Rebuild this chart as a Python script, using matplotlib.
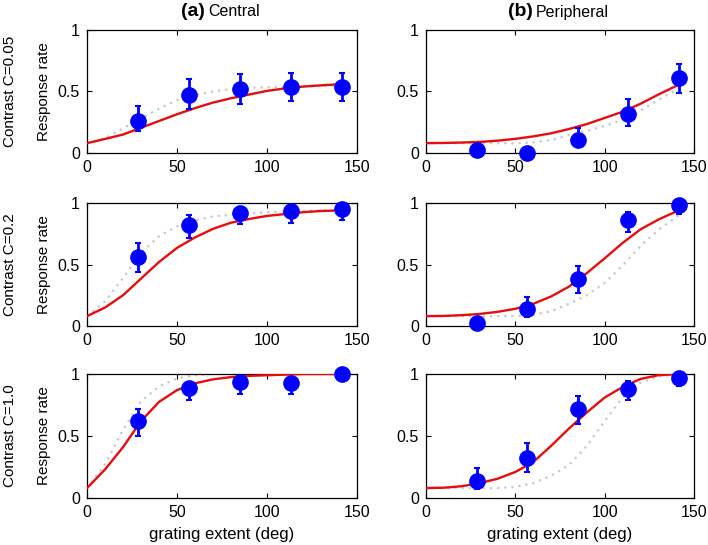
import matplotlib
matplotlib.use("Agg")
import matplotlib.pyplot as plt
import numpy as np

plt.rcParams['font.family'] = ['Liberation Sans', 'DejaVu Sans']

# stimulus positions (deg)
x_pts = [28.3, 56.6, 84.9, 113.1, 141.4]
# fitted-curve sample positions (deg)
x_fit = [0, 10, 20, 30, 40, 50, 60, 70, 80, 90, 100, 110, 120, 130, 141.4]

# ---- (a) Central ----
a1_y = [0.26, 0.47, 0.52, 0.535, 0.54]
a1_lo = [0.18, 0.36, 0.40, 0.42, 0.42]
a1_hi = [0.38, 0.60, 0.64, 0.65, 0.65]
a1_red = [0.08, 0.114, 0.15, 0.205, 0.26, 0.315, 0.365, 0.41, 0.445, 0.475, 0.505, 0.525, 0.54, 0.55, 0.56]
a1_gray = [0.08, 0.12, 0.20, 0.28, 0.36, 0.43, 0.47, 0.50, 0.52, 0.53, 0.535, 0.54, 0.542, 0.544, 0.545]

a2_y = [0.56, 0.82, 0.92, 0.935, 0.95]
a2_lo = [0.44, 0.715, 0.83, 0.84, 0.865]
a2_hi = [0.675, 0.90, 0.97, 0.98, 0.995]
a2_red = [0.08, 0.15, 0.25, 0.385, 0.52, 0.635, 0.72, 0.79, 0.84, 0.87, 0.895, 0.91, 0.925, 0.935, 0.94]
a2_gray = [0.08, 0.20, 0.39, 0.59, 0.73, 0.81, 0.86, 0.89, 0.905, 0.915, 0.925, 0.93, 0.935, 0.94, 0.94]

a3_y = [0.62, 0.886, 0.935, 0.93, 1.0]
a3_lo = [0.50, 0.79, 0.84, 0.84, 0.99]
a3_hi = [0.72, 0.93, 0.97, 0.97, 1.0]
a3_red = [0.08, 0.23, 0.41, 0.62, 0.775, 0.87, 0.925, 0.957, 0.975, 0.985, 0.99, 0.995, 1.0, 1.0, 1.0]
a3_gray = [0.08, 0.27, 0.55, 0.78, 0.90, 0.965, 0.99, 1.0, 1.0, 1.0, 1.0, 1.0, 1.0, 1.0, 1.0]

# ---- (b) Peripheral ----
b1_y = [0.027, 0.0, 0.108, 0.316, 0.61]
b1_lo = [0.0, 0.0, 0.08, 0.22, 0.49]
b1_hi = [0.06, 0.0, 0.20, 0.44, 0.72]
b1_red = [0.08, 0.082, 0.085, 0.09, 0.10, 0.115, 0.135, 0.16, 0.195, 0.235, 0.285, 0.335, 0.40, 0.475, 0.555]
b1_gray = [0.08, 0.08, 0.08, 0.08, 0.08, 0.08, 0.085, 0.105, 0.145, 0.18, 0.22, 0.27, 0.345, 0.43, 0.525]

b2_y = [0.024, 0.135, 0.38, 0.865, 0.98]
b2_lo = [0.0, 0.07, 0.27, 0.765, 0.91]
b2_hi = [0.06, 0.236, 0.49, 0.93, 1.0]
b2_red = [0.08, 0.082, 0.088, 0.098, 0.115, 0.14, 0.18, 0.24, 0.32, 0.43, 0.55, 0.675, 0.785, 0.865, 0.94]
b2_gray = [0.08, 0.08, 0.08, 0.08, 0.08, 0.082, 0.09, 0.12, 0.18, 0.25, 0.35, 0.49, 0.65, 0.78, 0.90]

b3_y = [0.138, 0.32, 0.72, 0.88, 0.97]
b3_lo = [0.076, 0.21, 0.60, 0.79, 0.90]
b3_hi = [0.24, 0.44, 0.82, 0.94, 1.0]
b3_red = [0.08, 0.083, 0.095, 0.12, 0.155, 0.21, 0.29, 0.42, 0.56, 0.69, 0.81, 0.895, 0.96, 0.99, 1.0]
b3_gray = [0.08, 0.08, 0.08, 0.08, 0.08, 0.09, 0.12, 0.18, 0.265, 0.42, 0.62, 0.81, 0.93, 0.98, 0.995]

row_labels = ["Contrast C=0.05", "Contrast C=0.2", "Contrast C=1.0"]
x_ticks = [0, 50, 100, 150]
y_ticks = [0, 0.5, 1]
y_ticklabels = ["0", "0.5", "1"]

panels = [
    [(a1_y, a1_lo, a1_hi, a1_red, a1_gray), (b1_y, b1_lo, b1_hi, b1_red, b1_gray)],
    [(a2_y, a2_lo, a2_hi, a2_red, a2_gray), (b2_y, b2_lo, b2_hi, b2_red, b2_gray)],
    [(a3_y, a3_lo, a3_hi, a3_red, a3_gray), (b3_y, b3_lo, b3_hi, b3_red, b3_gray)],
]

W, H = 708, 545
fig = plt.figure(figsize=(W / 100, H / 100), dpi=100)

col_x = [(87, 357), (426, 694)]
row_y = [(30, 153), (203, 326), (374, 498)]

for r in range(3):
    for c in range(2):
        x0, x1 = col_x[c]
        yt, yb = row_y[r]
        ax = fig.add_axes([x0 / W, 1 - yb / H, (x1 - x0) / W, (yb - yt) / H])
        y, lo, hi, red, gray = panels[r][c]
        ax.plot(x_fit, gray, color=(0.78, 0.78, 0.80), lw=1.6, ls=(0, (1, 2.2)),
                zorder=2, solid_joinstyle='round')
        ax.plot(x_fit, red, color=(0.9, 0.05, 0.05), lw=1.7, zorder=3,
                solid_joinstyle='round')
        y = np.array(y); lo = np.array(lo); hi = np.array(hi)
        ax.errorbar(x_pts, y, yerr=[y - lo, hi - y], fmt='o', color=(0, 0, 1),
                    ms=11, elinewidth=2, capsize=2.2, capthick=1.5,
                    zorder=4, clip_on=False)
        ax.set_xlim(0, 150)
        ax.set_ylim(0, 1)
        ax.set_xticks(x_ticks)
        ax.set_yticks(y_ticks)
        ax.set_yticklabels(y_ticklabels)
        ax.tick_params(direction='in', top=True, right=True, length=3.5,
                       width=0.8, labelsize=11.5, pad=5)
        for s in ax.spines.values():
            s.set_linewidth(0.9)
        if c == 0:
            ax.set_ylabel("Response rate", fontsize=11, labelpad=5)
            fig.text(10 / W, 1 - ((yt + yb) / 2) / H, row_labels[r], rotation=90,
                     ha='center', va='center', fontsize=11)
        if r == 2:
            ax.set_xlabel("grating extent (deg)", fontsize=12, labelpad=5)

# column titles
ty = 1 - 12 / H
fig.text(205 / W, ty, "(a)", ha='right', va='center', fontsize=14, fontweight='bold')
fig.text(208 / W, ty, "Central", ha='left', va='center', fontsize=11.5)
fig.text(533 / W, ty, "(b)", ha='right', va='center', fontsize=14, fontweight='bold')
fig.text(536 / W, ty, "Peripheral", ha='left', va='center', fontsize=11.5)

fig.savefig("out.png", dpi=100)
